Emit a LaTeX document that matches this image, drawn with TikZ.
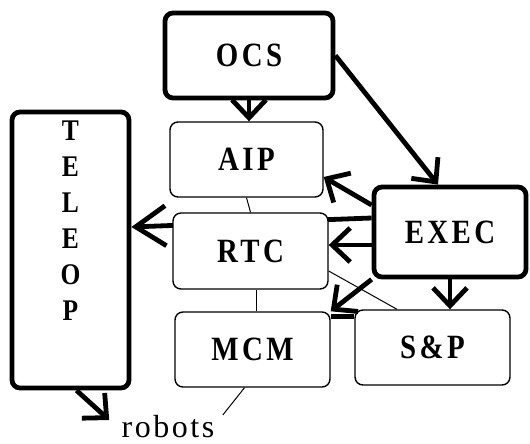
\documentclass[tikz,border=0pt]{standalone}
\usepackage{fontspec}
\setmainfont{Liberation Serif}[LetterSpace=8]
\newfontfamily\boxfont{Liberation Serif Bold}[FakeStretch=0.85, LetterSpace=10]
\usetikzlibrary{arrows.meta}

\begin{document}
\begin{tikzpicture}[x=0.5pt, y=-0.5pt,
			box/.style={draw, rounded corners=4pt, line width=0.7pt, fill=white, font=\fontsize{17}{18}\boxfont},
			heavybox/.style={box, line width=2.4pt},
			arr/.style={line width=2.4pt, -{Straight Barb[length=9pt,width=17pt]}},
			thin/.style={line width=0.5pt},
		]
		\path[use as bounding box] (0,0) rectangle (530,444);
		\node[heavybox, minimum width=84pt, minimum height=42.5pt] (ocs) at (249,55.5) {OCS};
		\node[box, minimum width=76.5pt, minimum height=37.5pt] (aip) at (246.5,159.5) {AIP};
		\node[heavybox, minimum width=76pt, minimum height=45pt] (exec) at (450,232) {EXEC};
		\node[heavybox, minimum width=58.5pt, minimum height=138pt,
			label={[name=teleoptext, anchor=north, align=center, yshift=-2pt, font=\fontsize{15}{18}\boxfont]north:T\\E\\L\\E\\O\\P}] (teleop) at (70.5,250) {};
		\node[box, minimum width=77.5pt, minimum height=37.5pt] (mcm) at (252.5,349.5) {MCM};
		\node[box, minimum width=77.5pt, minimum height=37.5pt] (sp) at (432.5,347.5) {S\&P};
		\node[font=\fontsize{16}{18}\selectfont, inner sep=1pt] (robots) at (168,427) {robots};
		\draw[line width=2.4pt, -{Straight Barb[length=15pt,width=20pt]}] ([yshift=7pt]exec.west) -- ([yshift=11.5pt]teleop.east);
		\node[box, minimum width=77.5pt, minimum height=38pt] (rtc) at (250.5,251) {RTC};
		\draw[arr] (ocs.south) -- (ocs.south |- aip.north);
		\draw[arr] (ocs.east) -- ([xshift=-6pt]exec.north);
		\draw[arr] ([yshift=13.5pt]exec.west) -- ([yshift=-8.75pt]aip.east);
		\draw[arr] ([yshift=-6.5pt]exec.west) -- ([yshift=-6.5pt]exec.west -| rtc.east);
		\draw[arr] (exec.south west) -- (mcm.north east);
		\draw[arr] (exec.south) -- (exec.south |- sp.north);
		\draw[line width=2.4pt] ([yshift=-2.5pt]mcm.north east) -- ([yshift=-2.5pt]mcm.north east -| sp.west);
		\draw[arr] ([xshift=3pt]teleop.south) -- ([xshift=-5pt,yshift=3.5pt]robots.west);
		\draw[thin] (aip.south) -- (rtc.north);
		\draw[thin] ([xshift=3pt]rtc.south) -- ([xshift=2pt]mcm.north);
		\draw[thin] ([yshift=-10pt]rtc.east) -- ([xshift=-17.75pt]sp.north);
		\draw[thin] ([xshift=-4pt]mcm.south) -- ([xshift=3pt,yshift=6pt]robots.east);
	\end{tikzpicture}
\end{document}
